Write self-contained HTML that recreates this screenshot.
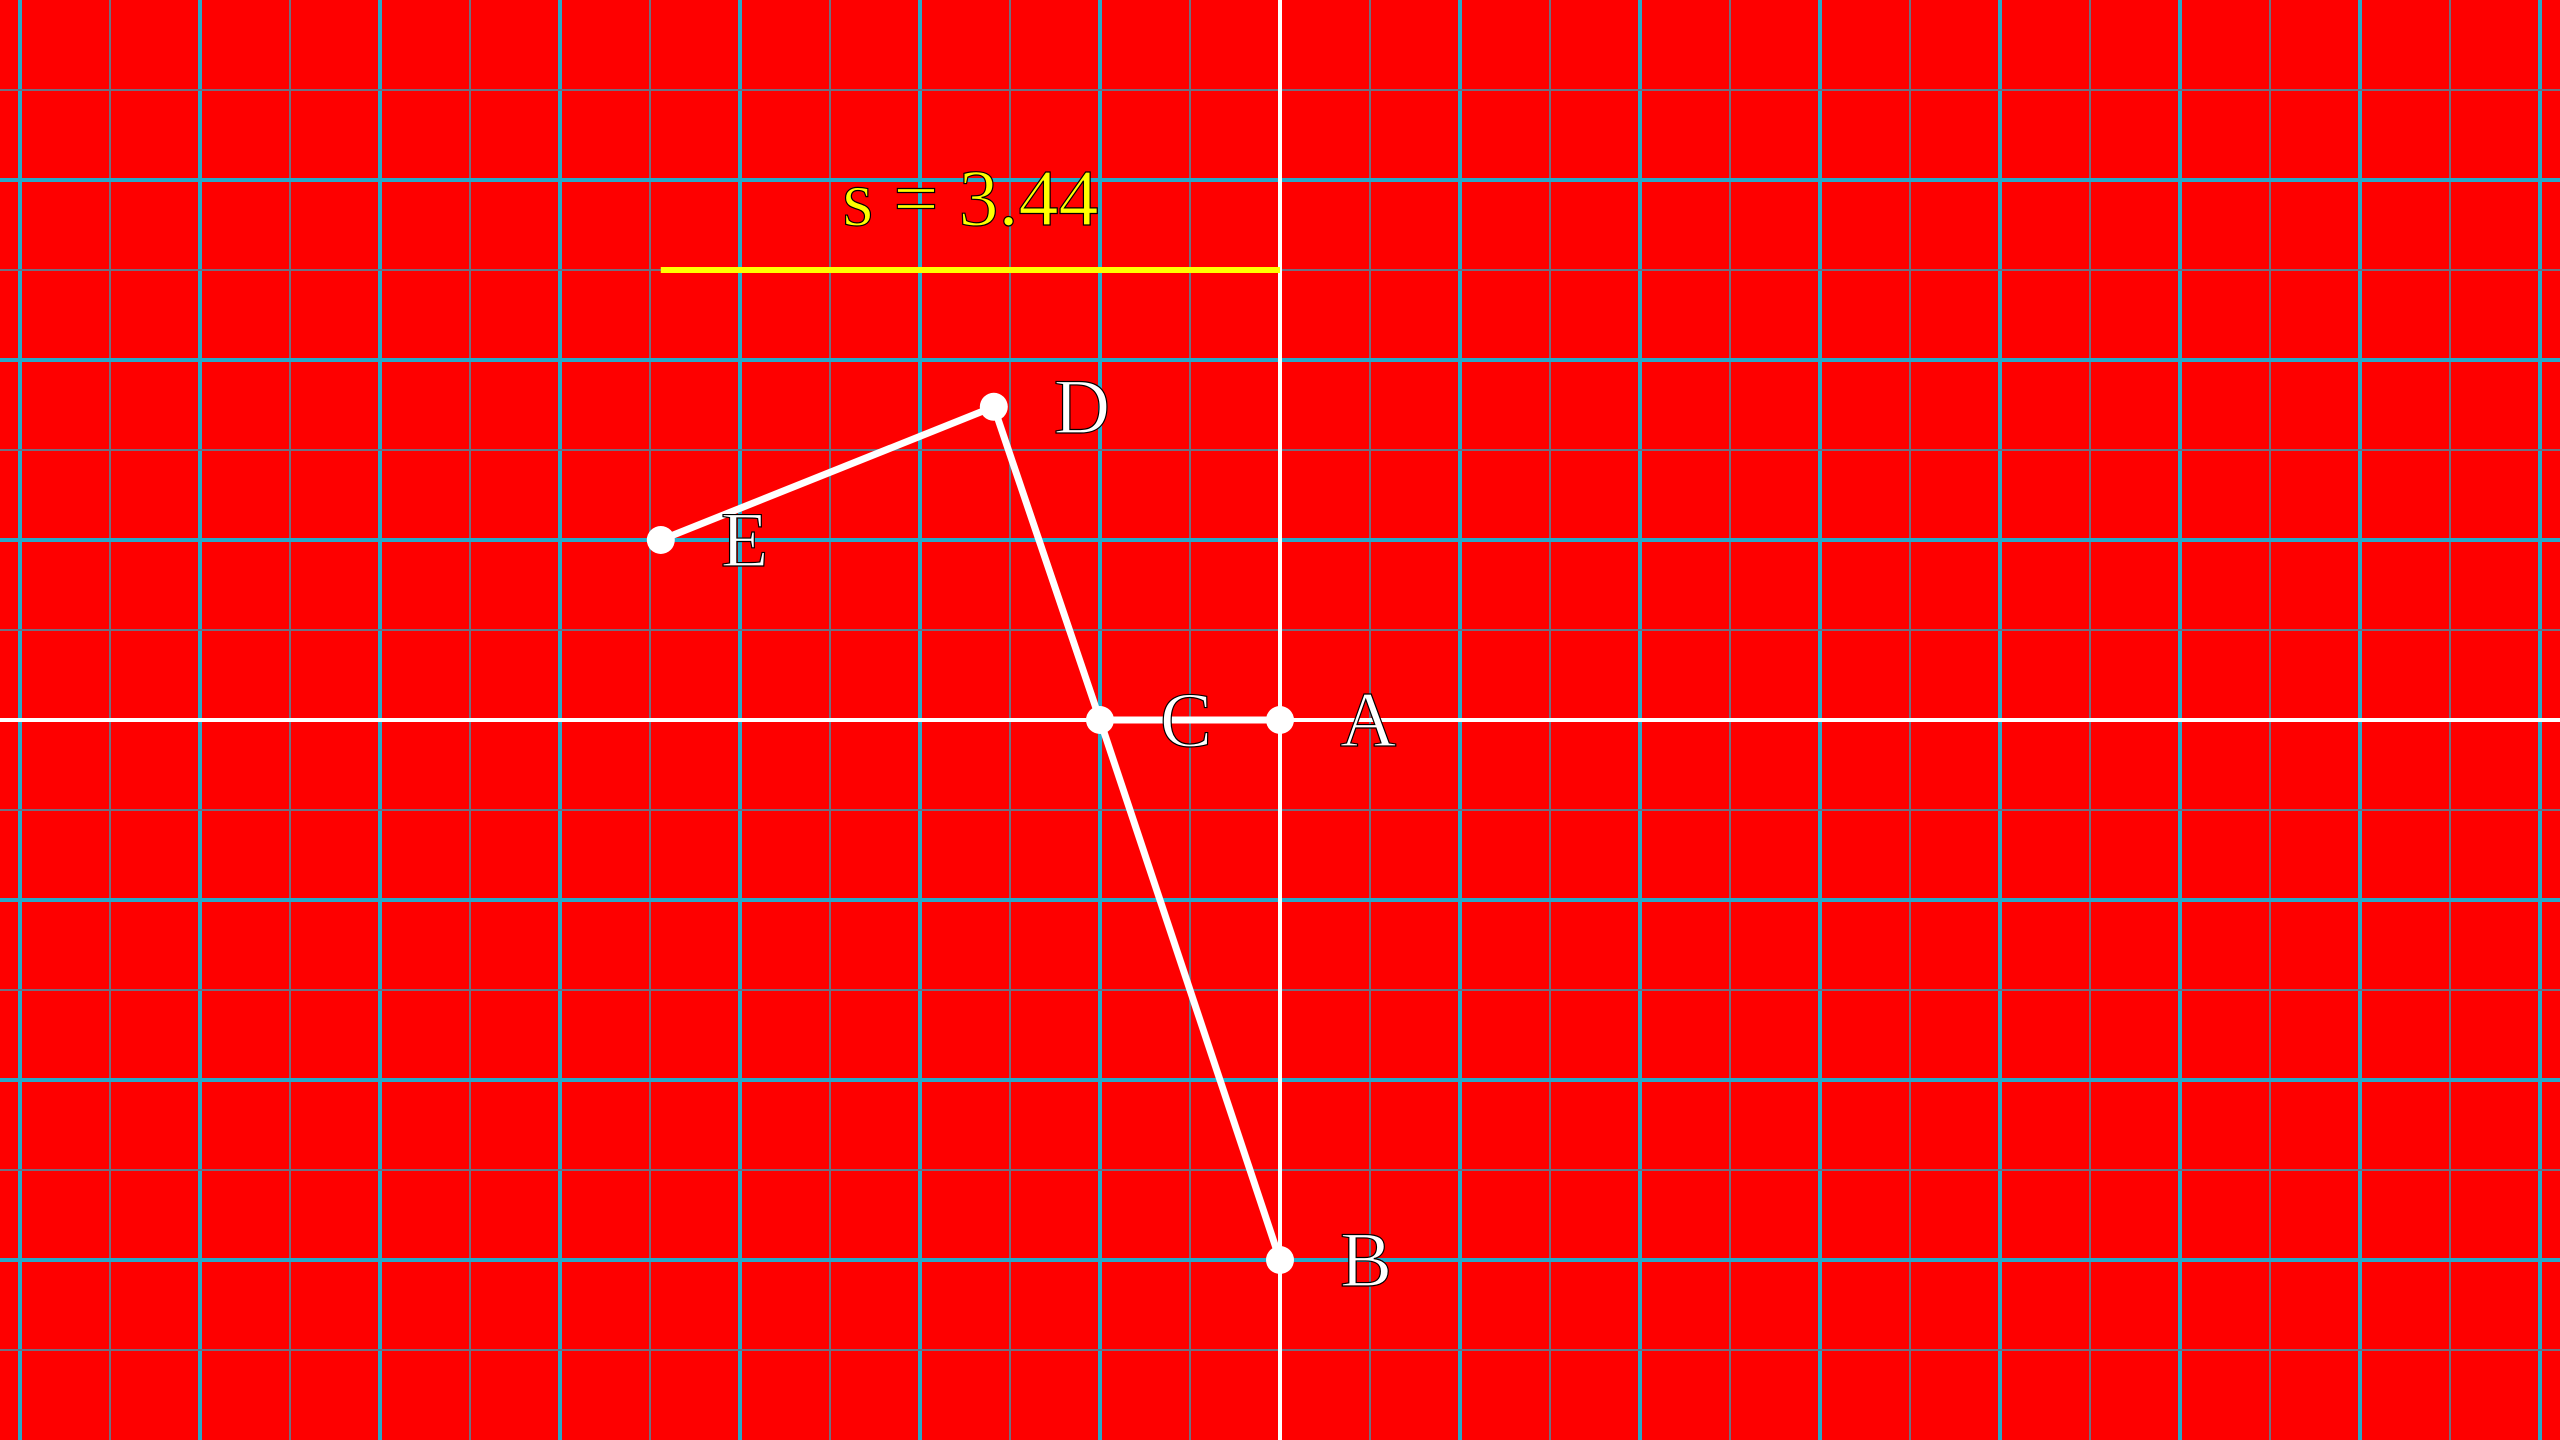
<!DOCTYPE html>
<html><head><meta charset="utf-8"><style>
html,body{margin:0;padding:0;background:#fe0000;overflow:hidden}
svg{display:block}
text{font-family:"Liberation Serif",serif}
</style></head><body>
<svg id="chart" width="2560" height="1440" viewBox="0 0 2560 1440" xmlns="http://www.w3.org/2000/svg">
<rect x="0" y="0" width="2560" height="1440" fill="#fe0000"/>
<g id="grid"></g>
<g id="axes"></g>
<g id="marks"></g>
</svg>
<script>
const pointNames = ["A","B","C","D","E"];
const pointX = [0, 0, -1, -1.59, -3.44];
const pointY = [0, -3, 0, 1.74, 1.0];
const segments = [["A","C"],["C","B"],["C","D"],["D","E"]];
const sValue = "3.44";
const sBarX = [-3.44, 0];
const sBarY = 2.5;

const NS="http://www.w3.org/2000/svg";
const unit=180, ox=1280, oy=720;
function sx(v){return ox+v*unit;}
function sy(v){return oy-v*unit;}
function mk(tag,attrs,parent){const e=document.createElementNS(NS,tag);for(const k in attrs)e.setAttribute(k,attrs[k]);parent.appendChild(e);return e;}

const grid=document.getElementById('grid');
for(let k=-16;k<=16;k++){
  const x=ox+k*90; if(x<-5||x>2565) continue;
  const major=k%2===0;
  const l=mk('line',{x1:x,y1:0,x2:x,y2:1440,stroke:major?'#29a9c8':'#707080','stroke-width':major?4:2},grid);
  
  
}
for(let k=-10;k<=10;k++){
  const y=oy+k*90; if(y<=2||y>=1438) continue;
  const major=k%2===0;
  const l=mk('line',{x1:0,y1:y,x2:2560,y2:y,stroke:major?'#29a9c8':'#707080','stroke-width':major?4:2},grid);
  
  
}
const axes=document.getElementById('axes');
const xa=mk('line',{x1:0,y1:oy,x2:2560,y2:oy,stroke:'#fff','stroke-width':4},axes);


const ya=mk('line',{x1:ox,y1:0,x2:ox,y2:1440,stroke:'#fff','stroke-width':4},axes);



const marks=document.getElementById('marks');
const bar=mk('line',{x1:sx(sBarX[0]),y1:sy(sBarY),x2:sx(sBarX[1]),y2:sy(sBarY),stroke:'#ffff00','stroke-width':6},marks);


const st=mk('text',{x:sx((sBarX[0]+sBarX[1])/2),y:sy(sBarY)-45,'font-size':80,fill:'#ffff00',stroke:'#000','stroke-width':1.2,'text-anchor':'middle','xml:space':'preserve'},marks);
st.textContent='s  =  '+sValue;



function idx(n){return pointNames.indexOf(n);}
segments.forEach(([a,b])=>{
  const i=idx(a), j=idx(b);
  const l=mk('line',{x1:sx(pointX[i]),y1:sy(pointY[i]),x2:sx(pointX[j]),y2:sy(pointY[j]),stroke:'#fff','stroke-width':7},marks);
  
  
});
pointNames.forEach((n,i)=>{
  const c=mk('circle',{cx:sx(pointX[i]),cy:sy(pointY[i]),r:14,fill:'#fff'},marks);
  
  
  const t=mk('text',{x:sx(pointX[i])+60,y:sy(pointY[i])+26,'font-size':78,fill:'#fff',stroke:'#000','stroke-width':1.2},marks);
  t.textContent=n;
  
  
});
</script>
</body></html>
